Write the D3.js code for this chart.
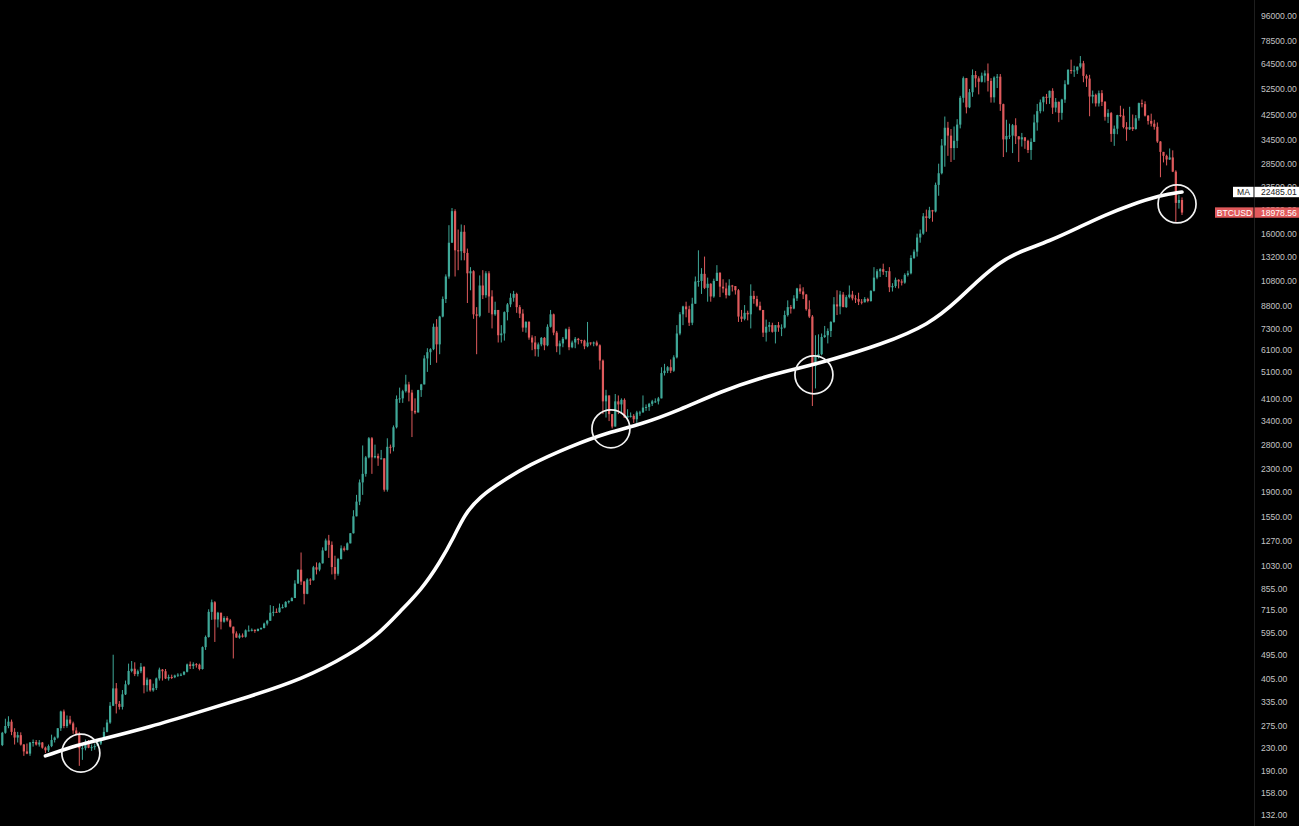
<!DOCTYPE html>
<html><head><meta charset="utf-8">
<script src="https://cdn.jsdelivr.net/npm/d3@7"></script>
<style>html,body{margin:0;padding:0;background:#000;overflow:hidden}</style>
</head><body><svg id="c" width="1299" height="826"></svg>
<script>
// ---- data: BTCUSD weekly candles (week of 2015-02-23 .. week of 2022-06-27) ----
const weekStart = "2015-02-23";
const firstOpen = 235;
const weekHigh = [
 262,292,298,290,270,262,261,237,238,241,246,245,245,241,232,236,256,252,270,312,315,300,299,285,272,262,235,246,245,236,238,241,248,272,290,335,495,392,338,370,400,460,470,465,438,
 462,450,410,405,390,410,445,440,440,420,420,420,425,425,432,460,468,465,462,460,530,580,720,780,770,705,700,680,680,665,620,600,590,590,610,630,615,610,615,620,645,660,745,740,725,755,750,770,775,795,915,1000,
 1150,910,930,930,1030,1060,1060,1200,1290,1330,1260,1120,1100,1220,1210,1250,1350,1630,1850,2100,2780,2550,2980,2980,2800,2600,2680,2500,2950,2800,3280,4200,4480,4400,4980,4700,4400,4100,4400,4620,5850,6200,6200,7600,7880,8100,9500,11400,17100,19700,19500,16500,
 17200,17100,14100,12100,11800,8700,11300,11800,11700,11700,10000,9100,8500,7500,8400,9000,9750,9950,9800,8850,8550,7750,7750,6900,6850,6500,6800,6800,7550,8500,8250,7150,6600,6800,7300,7400,6600,6800,6750,6650,6650,7700,6500,6550,6600,6400,5650,4400,4200,3600,4250,4200,
 4100,4100,3750,3650,3600,3700,3700,4200,3900,3950,4050,4100,4150,5300,5450,5350,5650,5850,7500,8350,8800,9100,8800,9400,11200,13900,12000,13200,11100,10600,11000,12300,11600,10950,10650,10950,10450,10350,10100,8500,8850,8450,10500,9950,9550,9100,8500,7850,7700,7650,7500,7700,
 7550,8450,9200,8850,9600,10200,10500,10250,9700,9200,8150,6900,6950,7000,7450,7300,7750,9450,10000,9950,9850,9600,10400,9950,9600,9800,9300,9450,9400,10000,12100,11900,12000,12450,11700,12100,10600,11100,10950,10950,11500,11750,13350,14000,15950,16500,18900,19450,19900,19400,24300,28400,34800,
 41900,40100,37800,38600,41000,49700,58300,57600,52600,61800,61000,58400,60200,61300,64900,57500,58400,59500,59500,46600,40800,39500,39400,41300,35600,36600,35100,34600,35000,42600,46500,48200,49400,50500,51900,52900,48800,47400,48500,56500,62000,67000,63700,63300,69000,66300,59300,59100,51900,50600,51900,52100,
 47600,44500,43500,38900,42500,45800,44700,40000,45400,42600,42400,47000,48200,47500,42400,42900,40800,39900,34200,31300,30600,32200,31700,26900,21900,21500
];
const weekLow = [
 233,258,270,255,236,240,234,215,218,215,232,234,232,228,220,222,231,240,248,264,270,271,278,258,256,198,208,225,229,224,226,234,235,245,261,280,324,305,315,315,355,385,428,415,414,
 425,360,365,365,365,370,400,400,405,400,405,408,412,415,418,428,440,440,445,435,438,515,570,660,550,620,610,645,650,620,480,570,565,570,570,600,600,593,600,607,615,630,655,680,700,700,725,730,755,770,790,890,
 880,750,815,880,912,960,985,1050,1165,1100,960,920,950,1085,1160,1170,1240,1345,1550,1700,1850,2150,2500,2200,2500,2350,2480,1900,1900,2600,2650,3200,3950,3950,4300,4000,2980,3600,3650,4150,4600,5100,5400,6100,5500,5900,8000,9000,11000,14800,11200,11800,
 12800,12800,9000,10000,7900,5900,8000,9300,9400,8300,7300,8100,6500,6500,6600,7800,8700,9100,8300,7950,7100,7050,6650,6100,5800,5780,6300,6100,6300,7350,6900,6000,5880,6250,6650,6100,6200,6200,6400,6450,6150,6250,6350,6300,6300,5200,3600,3500,3400,3200,3250,3600,
 3650,3500,3500,3500,3350,3350,3550,3650,3700,3700,3850,3950,3900,4100,4950,5050,5050,5100,5700,6900,7500,8000,7450,7500,8950,10300,9700,10100,9100,9100,9400,10800,9450,9800,9350,9550,9900,9650,7700,7700,7800,7800,7300,8950,8700,8450,6800,6550,7100,7050,6450,7100,
 6850,7300,8050,8250,8550,9150,9700,9300,8450,7950,3850,4450,5700,5850,6750,6450,6800,7650,8150,8200,8700,8650,9350,9200,9000,8850,8900,9050,9050,9100,9900,10950,11150,11350,11150,9850,9900,10200,10150,10400,10550,11200,11400,12950,13200,14800,15800,16200,18000,17600,19000,21800,26000,
 27700,30300,28800,29300,32300,38000,47000,43000,44900,49300,53300,50300,55500,55500,51500,47000,47000,53000,43900,30000,31200,34800,31000,33400,28800,32700,32100,31000,29300,34000,37300,43000,43700,46400,46500,42800,43400,40000,40800,46900,54400,59600,58100,59500,62300,55600,53500,42000,46700,45500,45500,45700,
 40500,39700,34000,32900,36200,41700,38000,34300,37500,37200,37600,40500,45200,41900,39200,38600,37600,33700,25400,28700,28000,29300,26500,17600,19600,18600
];
const weekClose = [
 260,275,285,262,250,255,236,223,219,240,241,236,240,230,225,233,245,250,270,310,275,290,281,265,258,229,229,240,230,231,233,238,247,262,283,325,375,330,322,357,388,433,441,422,432,
 448,385,403,369,376,407,438,432,407,412,411,417,420,420,430,457,451,458,456,440,527,573,705,763,662,700,650,670,657,624,590,570,580,574,605,605,608,602,612,617,640,655,700,705,703,730,733,765,770,790,890,998,
 905,818,920,915,1018,999,1052,1170,1270,1225,1020,965,1090,1190,1175,1240,1348,1550,1750,2050,2200,2520,2950,2520,2550,2500,2500,1930,2750,2740,3230,4080,4100,4350,4600,4300,3700,3650,4390,4600,5700,6000,6150,7400,6400,8050,9300,11200,14800,19200,13900,13800,
 16200,13600,11500,11700,8200,8100,10400,9600,11500,9500,8200,8500,6900,7000,8350,8900,9400,9700,8700,8250,7350,7700,6770,6500,6150,6400,6750,6350,7400,8200,7050,6300,6450,6700,7250,6250,6500,6700,6630,6600,6300,6500,6450,6500,6350,5600,4000,4200,3600,3250,4000,3900,
 4050,3500,3550,3550,3450,3650,3650,3800,3820,3920,4000,4000,4100,5050,5150,5300,5150,5750,7000,8200,8750,8550,7650,8950,10750,10800,11450,10200,10550,9500,10800,11550,10300,10150,9600,10400,10350,10000,8050,7900,8300,8200,9550,9300,8800,8500,7050,7400,7500,7100,7500,7350,
 7350,8150,8700,8600,9350,10150,9900,9650,8550,8050,5350,5800,5900,6800,6900,7150,7700,8900,8750,9650,8700,9450,9650,9350,9300,9100,9050,9300,9150,9950,11100,11700,11900,11650,11700,10250,10350,10900,10750,10650,11350,11500,13050,13750,15450,15950,18400,18150,19350,19150,23850,26250,33000,
 38200,35800,32300,34300,39200,48900,57500,45200,51200,59000,57400,55800,58700,59800,56200,49100,57800,58200,46400,34700,35700,35800,39000,35600,34700,35300,34300,31800,34000,39900,43800,47100,49300,48900,51800,45100,47300,43200,48200,54700,61500,61000,61300,63200,65000,58600,57300,49400,50100,46700,50800,47300,
 41800,43100,36300,37900,42400,42200,38400,37700,38400,37800,41300,46800,46400,42200,40400,39500,38500,34100,31300,30300,29400,29900,26600,20550,21050,18978.56
];
// 200-week moving average (week index, value)
const maWeek  = [14,25,32,48,64,80,97,113,123,129,136,142,147,150,155,162,171,184,197,207,220,233,246,259,269,285,301,311,317,324,330,340,350,358,366,376,383];
const maValue = [215,236,246,273,309,350,403,495,598,705,845,1056,1330,1569,1821,2059,2369,2750,3110,3295,3730,4325,4855,5273,5631,6374,7519,9388,10900,12630,13720,15000,16900,18600,20150,21900,22485.01];
// price-axis ticks
const priceTicks = [96000,78500,64500,52500,42500,34500,28500,23500,19500,16000,13200,10800,8800,7300,6100,5100,4100,3400,2800,2300,1900,1550,1270,1030,855,715,595,495,405,335,275,230,190,158,132];
const maLabel = "MA", maLast = 22485.01;
const symbolLabel = "BTCUSD", lastPrice = 18978.56;
// hand-drawn circle annotations (week index, price)
const circleWeek  = [25.5, 197.6, 263.5, 381.4];
const circleValue = [220, 3190, 4980, 20380];

// ---- drawing ----
const W = 1299, H = 826;
const UP = "#3fa898", DOWN = "#df5a5c";
const svg = d3.select("#c");
svg.append("rect").attr("width", W).attr("height", H).attr("fill", "#000");

const t0 = new Date(weekStart + "T00:00:00Z");
const dateOf = w => new Date(t0.getTime() + w * 7 * 864e5);
const n = weekClose.length;
const x = d3.scaleUtc().domain([dateOf(0), dateOf(n - 1)]).range([2.3, 1182]);
const y = d3.scaleLog().domain([132, 96000]).range([815, 16]);

const candles = weekClose.map((c, i) => {
  const o = i === 0 ? firstOpen : weekClose[i - 1];
  return {i, o, c, h: weekHigh[i], l: weekLow[i], up: c >= o};
});

const g = svg.append("g");
g.selectAll("line.wick").data(candles).join("line")
  .attr("class", "wick")
  .attr("x1", d => x(dateOf(d.i))).attr("x2", d => x(dateOf(d.i)))
  .attr("y1", d => y(Math.max(d.h, d.o, d.c))).attr("y2", d => y(Math.min(d.l, d.o, d.c)))
  .attr("stroke", d => d.up ? UP : DOWN).attr("stroke-width", 1);
g.selectAll("rect.body").data(candles).join("rect")
  .attr("class", "body")
  .attr("x", d => x(dateOf(d.i)) - 1.1).attr("width", 2.2)
  .attr("y", d => y(Math.max(d.o, d.c)))
  .attr("height", d => Math.max(1, Math.abs(y(d.o) - y(d.c))))
  .attr("fill", d => d.up ? UP : DOWN);

// MA line
const maPts = maWeek.map((w, k) => ({w, v: maValue[k]}));
svg.append("path").datum(maPts)
  .attr("d", d3.line().x(d => x(dateOf(d.w))).y(d => y(d.v)).curve(d3.curveBasis))
  .attr("fill", "none").attr("stroke", "#fff").attr("stroke-width", 3.6)
  .attr("stroke-linecap", "round").attr("stroke-linejoin", "round");

// circles
svg.selectAll("circle.ann").data(circleWeek.map((w, k) => ({w, v: circleValue[k]}))).join("circle")
  .attr("class", "ann")
  .attr("cx", d => x(dateOf(d.w))).attr("cy", d => y(d.v)).attr("r", 19)
  .attr("fill", "none").attr("stroke", "#f2f2f2").attr("stroke-width", 1.7);

// price axis
const axisX = 1254;
svg.append("line").attr("x1", axisX + 0.5).attr("x2", axisX + 0.5).attr("y1", 0).attr("y2", H)
  .attr("stroke", "#1e1e1e").attr("stroke-width", 1);
const ax = svg.append("g").attr("transform", `translate(${axisX},0)`)
  .call(d3.axisRight(y).tickValues(priceTicks).tickFormat(d => d.toFixed(2)).tickSize(0).tickPadding(7));
ax.select(".domain").remove();
ax.selectAll("text").attr("fill", "#c4c4c4")
  .style("font-family", "'Liberation Sans', Arial, sans-serif").style("font-size", "8.6px");

// last-value labels
function tag(label, value, bg, fg, labelX) {
  const cy = y(value), h = 10.4;
  const t = svg.append("g");
  t.append("rect").attr("x", labelX).attr("y", cy - h / 2).attr("width", axisX - 0.5 - labelX).attr("height", h).attr("fill", bg);
  t.append("rect").attr("x", axisX + 0.5).attr("y", cy - h / 2).attr("width", W - axisX).attr("height", h).attr("fill", bg);
  t.append("text").attr("x", (labelX + axisX) / 2).attr("y", cy).attr("dy", "0.35em").attr("text-anchor", "middle")
    .attr("fill", fg).style("font-family", "'Liberation Sans', Arial, sans-serif").style("font-size", "8.6px").text(label);
  t.append("text").attr("x", axisX + 7).attr("y", cy).attr("dy", "0.35em")
    .attr("fill", fg).style("font-family", "'Liberation Sans', Arial, sans-serif").style("font-size", "8.6px").text(value.toFixed(2));
}
tag(maLabel, maLast, "#ffffff", "#222222", 1233);
tag(symbolLabel, lastPrice, "#e0595b", "#ffffff", 1215);
</script></body></html>
